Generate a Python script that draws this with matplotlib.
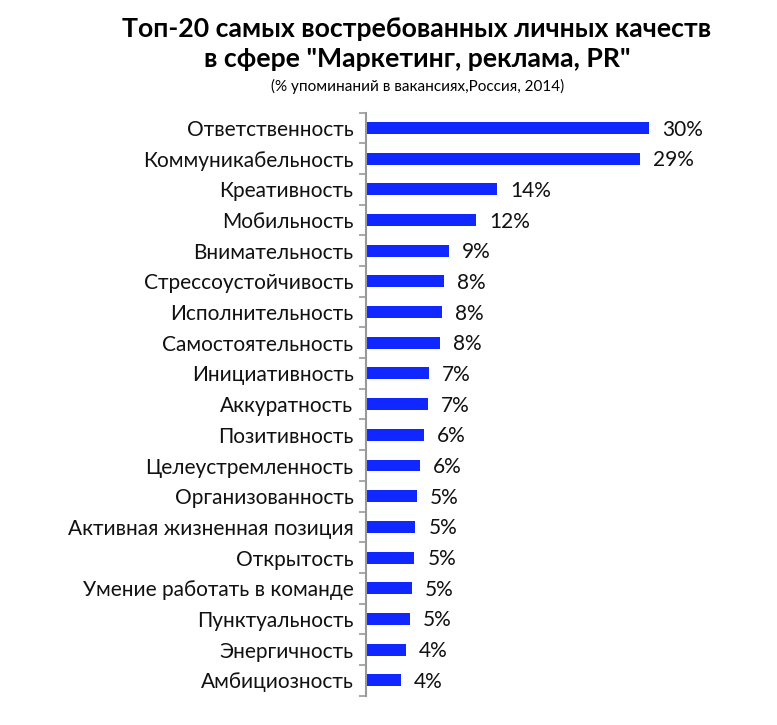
import numpy as np
import matplotlib.pyplot as plt

# data (percent of vacancies mentioning the quality)
qualities = [
    'Ответственность', 'Коммуникабельность', 'Креативность', 'Мобильность',
    'Внимательность', 'Стрессоустойчивость', 'Исполнительность',
    'Самостоятельность', 'Инициативность', 'Аккуратность', 'Позитивность',
    'Целеустремленность', 'Организованность', 'Активная жизненная позиция',
    'Открытость', 'Умение работать в команде', 'Пунктуальность',
    'Энергичность', 'Амбициозность',
]
shares = [29.8, 28.8, 13.8, 11.6, 8.7, 8.2, 8.0, 7.8, 6.6, 6.5, 6.1, 5.7,
          5.4, 5.2, 5.1, 4.8, 4.6, 4.2, 3.7]
value_labels = ['30%', '29%', '14%', '12%', '9%', '8%', '8%', '8%', '7%', '7%',
                '6%', '6%', '5%', '5%', '5%', '5%', '5%', '4%', '4%']

plt.rcParams['font.family'] = ['Lato', 'DejaVu Sans']

W, H = 777, 725
fig = plt.figure(figsize=(W / 100, H / 100), dpi=100)

x0, x1 = 366, 745
top, bottom = 112.7, 695.6
ax = fig.add_axes([x0 / W, 1 - bottom / H, (x1 - x0) / W, (bottom - top) / H])

px_per_pct = 283 / 29.8
n = len(qualities)
y = np.arange(n)
ax.barh(y, shares, height=0.39, color='#1028FF')
ax.set_ylim(n - 0.5, -0.5)
ax.set_xlim(0, (x1 - x0) / px_per_pct)

for yi, v, lab in zip(y, shares, value_labels):
    ax.text(v + 13 / px_per_pct, yi + 0.05, lab, va='center', ha='left',
            fontsize=15, color='#111111')

ax.set_yticks(y)
ax.set_yticklabels(qualities, fontsize=15, color='#111111')
ax.tick_params(axis='y', which='major', length=0, pad=9)
ax.set_yticks(np.arange(-0.5, n, 1), minor=True)
ax.tick_params(axis='y', which='minor', length=5, width=1.2, color='#999999')
ax.set_xticks([])
for s in ['top', 'right', 'bottom']:
    ax.spines[s].set_visible(False)
ax.spines['left'].set_color('#999999')
ax.spines['left'].set_linewidth(1.5)

fig.text(417 / W, 1 - 29 / H, 'Топ-20 самых востребованных личных качеств',
         ha='center', va='center', fontsize=19.2, fontweight='bold')
fig.text(417 / W, 1 - 59 / H, 'в сфере "Маркетинг, реклама, PR"',
         ha='center', va='center', fontsize=19.2, fontweight='bold')
fig.text(418 / W, 1 - 86 / H, '(% упоминаний в вакансиях,Россия, 2014)',
         ha='center', va='center', fontsize=11)

fig.savefig('out.png', dpi=100)
